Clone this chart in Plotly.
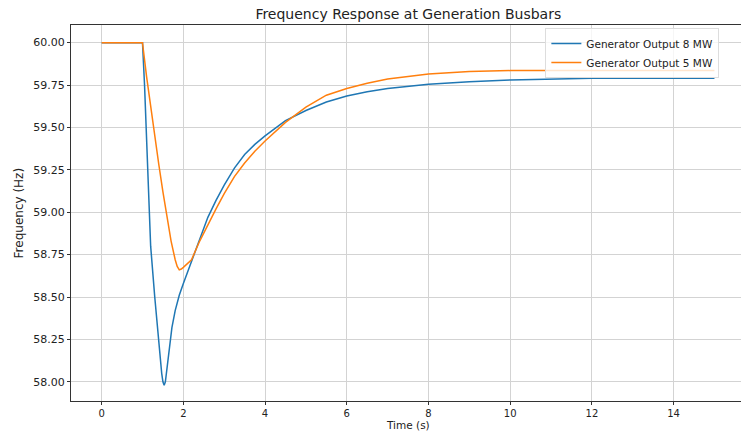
import plotly.graph_objects as go

# Time (s) and frequency (Hz)
t_8mw = [0, 1.0, 1.05, 1.1, 1.15, 1.2, 1.3, 1.4, 1.47, 1.5, 1.53, 1.56, 1.6, 1.65, 1.72, 1.8,
         1.9, 2.0, 2.2, 2.4, 2.6, 2.8, 3.0, 3.25, 3.5, 3.75, 4.0, 4.5, 5.0, 5.5, 6.0,
         6.5, 7.0, 8.0, 9.0, 10.0, 12.0, 15.0]
f_8mw = [60.00, 60.00, 59.75, 59.42, 59.05, 58.80, 58.50, 58.21, 58.05, 58.00, 57.98,
         58.00, 58.08, 58.20, 58.32, 58.42, 58.51, 58.58, 58.71, 58.85, 58.97, 59.07,
         59.16, 59.26, 59.34, 59.40, 59.45, 59.54, 59.60, 59.65, 59.685, 59.71, 59.73,
         59.755, 59.77, 59.78, 59.79, 59.79]

t_5mw = [0, 1.0, 1.1, 1.2, 1.3, 1.4, 1.5, 1.6, 1.7, 1.8, 1.85, 1.9, 1.95, 2.0, 2.2,
         2.4, 2.6, 2.8, 3.0, 3.25, 3.5, 3.75, 4.0, 4.5, 5.0, 5.5, 6.0, 6.5, 7.0, 8.0,
         9.0, 10.0, 12.0, 15.0]
f_5mw = [60.00, 60.00, 59.80, 59.62, 59.45, 59.28, 59.12, 58.97, 58.83, 58.72, 58.68,
         58.66, 58.665, 58.675, 58.72, 58.83, 58.93, 59.02, 59.11, 59.21, 59.29, 59.36,
         59.42, 59.53, 59.62, 59.69, 59.73, 59.76, 59.785, 59.815, 59.83, 59.835,
         59.835, 59.835]

x_ticks = [0, 2, 4, 6, 8, 10, 12, 14]
y_ticks = [58.00, 58.25, 58.50, 58.75, 59.00, 59.25, 59.50, 59.75, 60.00]

FONT = "DejaVu Sans"
TXT = "#222222"

fig = go.Figure()
fig.add_trace(go.Scatter(x=t_8mw, y=f_8mw, mode="lines", name="Generator Output 8 MW",
                         line=dict(color="#1f77b4", width=1.5)))
fig.add_trace(go.Scatter(x=t_5mw, y=f_5mw, mode="lines", name="Generator Output 5 MW",
                         line=dict(color="#ff7f0e", width=1.5)))

axis_common = dict(
    showgrid=True, gridcolor="#d3d3d3", gridwidth=0.8,
    showline=True, linecolor="#333333", linewidth=1,
    ticks="outside", tickcolor="#333333", tickwidth=1,
    zeroline=False, automargin=False,
)

fig.update_xaxes(range=[-0.75, 15.65], tickvals=x_ticks, mirror=True, ticklen=2.5,
                 tickfont=dict(family=FONT, size=10, color=TXT), **axis_common)
fig.update_yaxes(range=[57.887, 60.104], tickvals=y_ticks, tickformat=".2f", ticklen=3,
                 tickfont=dict(family=FONT, size=11, color=TXT), **axis_common)

fig.update_layout(
    width=741, height=432,
    margin=dict(l=71, r=0, t=25, b=31),
    paper_bgcolor="white", plot_bgcolor="white",
    title=dict(text="Frequency Response at Generation Busbars",
               font=dict(family=FONT, size=14, color=TXT),
               x=0.551, xanchor="center", y=0.968, yanchor="middle"),
    legend=dict(x=0.708, y=0.992, xanchor="left", yanchor="top",
                bgcolor="rgba(255,255,255,0.8)", bordercolor="#dddddd", borderwidth=1,
                font=dict(family=FONT, size=10.5, color=TXT),
                tracegroupgap=0, itemwidth=30),
    showlegend=True,
    annotations=[
        dict(text="Time (s)", xref="paper", yref="paper", x=(408 - 71) / 670,
             y=-(432 - 401) / 376, xanchor="center", yanchor="bottom", showarrow=False,
             borderpad=0, font=dict(family=FONT, size=10.5, color=TXT)),
        dict(text="Frequency (Hz)", xref="paper", yref="paper", x=-0.077, y=0.5,
             xanchor="center", yanchor="middle", showarrow=False, textangle=-90,
             font=dict(family=FONT, size=12, color=TXT)),
    ],
)

fig.write_html("out.html", config={"displayModeBar": False},
               post_script="document.body.style.margin='0';document.body.style.overflow='hidden';")
